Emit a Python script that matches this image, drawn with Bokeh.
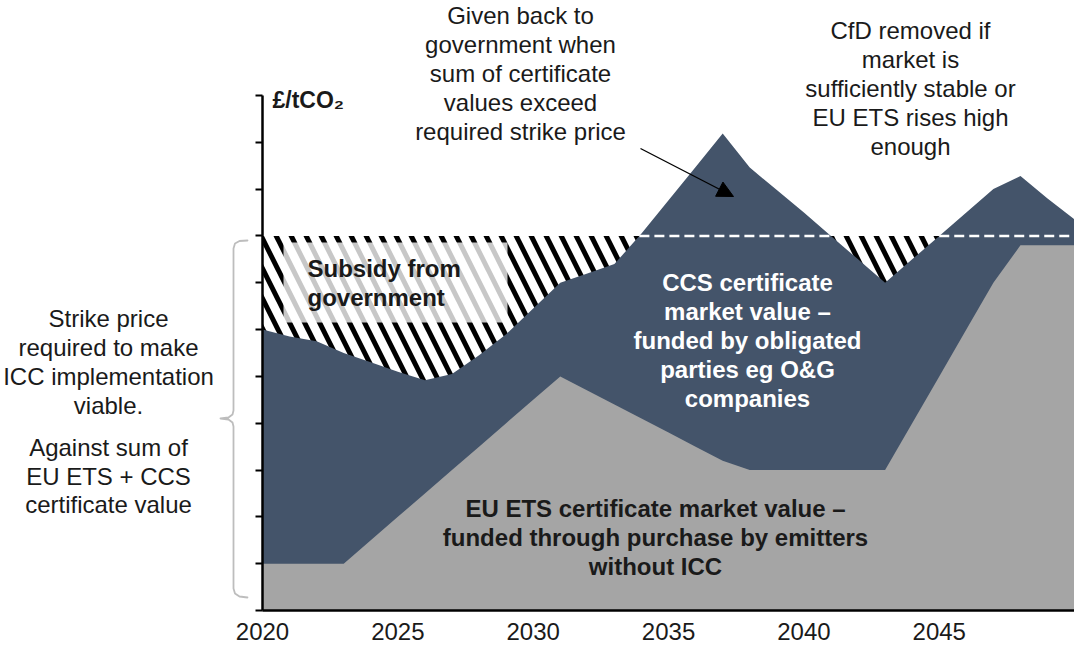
import numpy as np
from bokeh.plotting import figure
from bokeh.models import (Range1d, FixedTicker, Label, Arrow, NormalHead,
                          BoxAnnotation, PolyAnnotation)
from bokeh.embed import file_html
from bokeh.resources import INLINE

# ---------------- data ----------------
years = list(range(2020, 2051))
eu_ets = [1.0, 1.0, 1.0, 1.0, 1.5, 2.0, 2.5, 3.0, 3.5, 4.0, 4.5, 5.0,
          4.7, 4.4, 4.1, 3.8, 3.5, 3.2,
          3.0, 3.0, 3.0, 3.0, 3.0, 3.0,
          4.0, 5.0, 6.0, 7.0, 7.8, 7.8, 7.8]
total_value = [6.0, 5.85, 5.75, 5.5, 5.3, 5.1, 4.92, 5.05, 5.45, 5.9, 6.45, 7.0,
               7.2, 7.4, 8.05, 8.76, 9.47, 10.19,
               9.46, 8.98, 8.5, 8.0, 7.5, 7.0,
               7.5, 8.0, 8.5, 9.0, 9.28, 8.8, 8.35]
strike_price = 8.0
x_ticks = [2020, 2025, 2030, 2035, 2040, 2045]
y_ticks = list(range(0, 12))

BLUE = "#44546A"
GREY = "#A5A5A5"
FONT = "Liberation Sans"
TEXT = "#1a1a1a"

W, H = 1074, 645

# pixel helpers for layout (axis origin at page px (262, 610))
def X(px):
    return 2020 + (px - 262) / 27.07

def Y(py):
    return (610 - py) / 46.82

# ---------------- figure ----------------
p = figure(width=W, height=H, output_backend="svg", toolbar_location=None,
           x_range=Range1d(X(0), X(W)), y_range=Range1d(Y(H), Y(0)),
           min_border=0, min_border_left=0, min_border_right=0,
           min_border_top=0, min_border_bottom=0)
p.outline_line_color = None
p.xgrid.visible = False
p.ygrid.visible = False
p.background_fill_color = "white"
p.border_fill_color = "white"

# hatched strike-price region (visible only where certificates fall short)
p.varea(x=years, y1=[0] * len(years), y2=[strike_price] * len(years),
        fill_color="white", hatch_pattern="left_diagonal_line",
        hatch_color="black", hatch_weight=5, hatch_scale=30)
# CCS certificate (total) and EU ETS areas
p.varea(x=years, y1=[0] * len(years), y2=total_value, fill_color=BLUE)
p.varea(x=years, y1=[0] * len(years), y2=eu_ets, fill_color=GREY)

# white dashed strike line where the total exceeds the strike price
segs_x, segs_y = [], []
cur = None
for i in range(len(years) - 1):
    x0, x1 = years[i], years[i + 1]
    t0, t1 = total_value[i], total_value[i + 1]
    a0, a1 = t0 >= strike_price, t1 >= strike_price
    if a0 and cur is None:
        cur = x0
    if a0 != a1:
        xc = x0 + (strike_price - t0) / (t1 - t0) * (x1 - x0)
        if a0:
            segs_x.append([cur, xc]); segs_y.append([strike_price] * 2); cur = None
        else:
            cur = xc
if cur is not None:
    segs_x.append([cur, years[-1]]); segs_y.append([strike_price] * 2)
p.multi_line(xs=segs_x, ys=segs_y, line_color="white", line_width=2.5,
             line_dash="10 5")

# axes, placed at the data origin inside the frame
xa = p.xaxis[0]
xa.fixed_location = 0
xa.bounds = (2020, 2050)
xa.ticker = FixedTicker(ticks=x_ticks)
xa.axis_line_width = 2.5
xa.axis_line_color = "black"
xa.major_tick_out = 0
xa.major_tick_in = 0
xa.minor_tick_line_color = None
xa.major_label_standoff = 12
xa.major_label_text_font = FONT
xa.major_label_text_font_size = "24px"
xa.major_label_text_color = TEXT

ya = p.yaxis[0]
ya.fixed_location = 2020
ya.bounds = (0, 11)
ya.ticker = FixedTicker(ticks=y_ticks)
ya.axis_line_width = 2.5
ya.axis_line_color = "black"
ya.major_tick_out = 7
ya.major_tick_in = 0
ya.major_tick_line_width = 2
ya.minor_tick_line_color = None
ya.major_label_overrides = {t: "" for t in y_ticks}

# subsidy box
p.add_layout(BoxAnnotation(left=X(283), right=X(507), top=Y(242), bottom=Y(322),
                           fill_color="white", fill_alpha=0.78, line_alpha=0))

def add_lines(lines, cx, y0, step, align="center", color=TEXT, bold=False):
    for k, t in enumerate(lines):
        p.add_layout(Label(x=X(cx), y=Y(y0 + k * step), text=t,
                           text_align=align, text_baseline="middle",
                           text_font=FONT, text_font_size="24px",
                           text_color=color,
                           text_font_style="bold" if bold else "normal"))

add_lines(["Subsidy from", "government"], 307, 268, 29, align="left", bold=True)
add_lines(["Given back to", "government when", "sum of certificate",
           "values exceed", "required strike price"], 520, 15, 29)
add_lines(["CfD removed if", "market is", "sufficiently stable or",
           "EU ETS rises high", "enough"], 910, 30, 29)
add_lines(["CCS certificate", "market value \u2013", "funded by obligated",
           "parties eg O&G", "companies"], 747, 282, 29, color="white", bold=True)
add_lines(["EU ETS certificate market value \u2013",
           "funded through purchase by emitters", "without ICC"],
          655, 508, 29, bold=True)
add_lines(["Strike price", "required to make", "ICC implementation", "viable."],
          108, 318, 29)
add_lines(["Against sum of", "EU ETS + CCS", "certificate value"], 108, 447, 28.5)
p.add_layout(Label(x=X(272), y=Y(99), text="\u00a3/tCO\u2082", text_align="left",
                   text_baseline="middle", text_font=FONT, text_font_size="23px",
                   text_font_style="bold", text_color=TEXT))

# arrow
p.add_layout(Arrow(x_start=X(640), y_start=Y(148), x_end=X(733), y_end=Y(196),
                   line_width=1.3, line_color="black",
                   end=NormalHead(size=16, fill_color="black", line_color="black")))

# brace
bx = [247, 239, 234.5, 233, 233, 232, 228, 220, 228, 232, 233, 233, 234.5, 239, 247]
by = [240, 240.5, 243, 248, 410, 414, 417, 418, 419, 422, 426, 588, 593, 596, 597]
path_x = [X(v) for v in bx] + [X(v) for v in bx[::-1]]
path_y = [Y(v) for v in by] + [Y(v) for v in by[::-1]]
p.add_layout(PolyAnnotation(xs=path_x, ys=path_y, fill_alpha=0,
                            line_color="#262626", line_width=1.8,
                            line_join="round"))

open("out.html", "w").write(file_html(p, INLINE))
